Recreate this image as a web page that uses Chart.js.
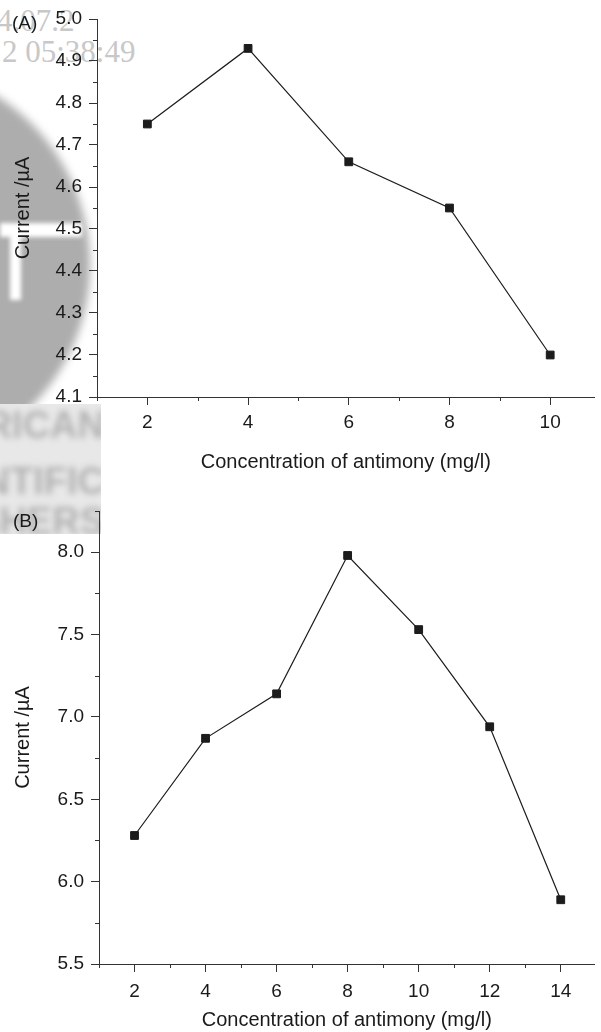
<!DOCTYPE html>
<html>
<head>
<meta charset="utf-8">
<script src="https://cdn.jsdelivr.net/npm/chart.js@4.4.1/dist/chart.umd.min.js"></script>
<style>
  html, body { margin: 0; padding: 0; background: #fff; overflow: hidden; }
  #page { position: relative; width: 601px; height: 1032px; overflow: hidden; }
  canvas { position: absolute; left: 0; z-index: 2; }
  #chartA { top: 0; }
  #chartB { top: 480px; }
  .stamp { position: absolute; z-index: 1; white-space: nowrap; line-height: 30px;
           font-family: "Liberation Serif", "DejaVu Serif", serif; font-size: 31px; color: #c8c8c8; }
  .logo { position: absolute; z-index: 0; }
  .panel { position: absolute; z-index: 3; line-height: 19px;
           font-family: "Liberation Sans", Arial, sans-serif; font-size: 19px; color: #1a1a1a; }
  #band { position: absolute; z-index: 0; left: 0; top: 404px; width: 101px; height: 130px;
          overflow: hidden; background: #e8e8e8; }
  #band div { position: absolute; right: -4px; white-space: nowrap; line-height: 38px;
              font-family: "Liberation Sans", Arial, sans-serif; font-weight: bold; font-size: 38px;
              color: #b2b2b2; filter: blur(3px); }
</style>
</head>
<body>
<div id="page">
  <!-- publisher stamp behind the plots -->
  <div class="logo" style="left:-310px; top:65px; width:400px; height:400px; border-radius:50%; background:#adadad; filter:blur(4px);"></div>
  <div class="logo" style="left:0; top:223px; width:82px; height:14px; background:#fff; filter:blur(2px);"></div>
  <div class="logo" style="left:10px; top:232px; width:11px; height:68px; background:#fff; filter:blur(2px);"></div>
  <div id="band">
    <div style="top:2px;">AMERICAN</div>
    <div style="top:58px;">SCIENTIFIC</div>
    <div style="top:98px;">PUBLISHERS</div>
  </div>
  <div class="stamp" style="left:-3px; top:6px;">4.07.2</div>
  <div class="stamp" style="left:2px; top:37px;">2 05:38:49</div>

  <canvas id="chartA" width="601" height="480"></canvas>
  <canvas id="chartB" width="601" height="552"></canvas>

  <div class="panel" style="left:12px; top:13px;">(A)</div>
  <div class="panel" style="left:13px; top:511px;">(B)</div>
</div>

<script>
// Panel (A): antimony concentration vs peak current
const concA    = [2, 4, 6, 8, 10];
const currentA = [4.75, 4.93, 4.66, 4.55, 4.20];
const xTicksA  = [2, 4, 6, 8, 10];
const yTicksA  = [4.1, 4.2, 4.3, 4.4, 4.5, 4.6, 4.7, 4.8, 4.9, 5.0];

// Panel (B): antimony concentration vs peak current
const concB    = [2, 4, 6, 8, 10, 12, 14];
const currentB = [6.28, 6.87, 7.14, 7.98, 7.53, 6.94, 5.89];
const xTicksB  = [2, 4, 6, 8, 10, 12, 14];
const yTicksB  = [5.5, 6.0, 6.5, 7.0, 7.5, 8.0];

const xTitle = 'Concentration of antimony (mg/l)';
const yTitle = 'Current /\u00b5A';

const axisInk = '#333333';
const textInk = '#1a1a1a';
const markInk = '#1c1c1c';
const sans = '"Liberation Sans", Arial, Helvetica, sans-serif';

// Minor tick values: halfway between the major ticks, kept inside [min, max]
function minorValues(majors, min, max) {
  const step = majors[1] - majors[0];
  const out = [];
  for (let k = -1; k < majors.length + 1; k++) {
    const v = +(majors[0] + step / 2 + k * step).toFixed(6);
    if (v >= min - 1e-9 && v <= max + 1e-9) out.push(v);
  }
  return out;
}

// Short outward ticks between the labelled ones
const minorTicks = {
  id: 'minorTicks',
  afterDraw(chart, args, opts) {
    const { ctx } = chart;
    const xs = chart.scales.x, ys = chart.scales.y;
    ctx.save();
    ctx.strokeStyle = axisInk;
    ctx.lineWidth = 1;
    ctx.beginPath();
    opts.x.forEach(v => {
      const px = Math.round(xs.getPixelForValue(v)) + 0.5;
      ctx.moveTo(px, xs.top);
      ctx.lineTo(px, xs.top + opts.len);
    });
    opts.y.forEach(v => {
      const py = Math.round(ys.getPixelForValue(v)) + 0.5;
      ctx.moveTo(ys.right, py);
      ctx.lineTo(ys.right - opts.len, py);
    });
    ctx.stroke();
    ctx.restore();
  }
};

function buildChart(id, c) {
  return new Chart(document.getElementById(id), {
    type: 'scatter',
    data: {
      datasets: [{
        data: c.xs.map((x, i) => ({ x: x, y: c.ys[i] })),
        showLine: true,
        borderColor: markInk,
        borderWidth: 1.2,
        tension: 0,
        pointStyle: 'rect',
        pointRadius: 5.5,
        pointBackgroundColor: markInk,
        pointBorderColor: markInk,
        pointBorderWidth: 1,
        clip: false
      }]
    },
    options: {
      responsive: false,
      animation: false,
      devicePixelRatio: 1,
      layout: { padding: { top: c.padTop, right: 0, bottom: 0, left: 0 } },
      plugins: {
        legend: { display: false },
        tooltip: { enabled: false },
        minorTicks: {
          x: minorValues(c.xTicks, c.xMin, c.xMax),
          y: minorValues(c.yTicks, c.yMin, c.yMax),
          len: 4
        }
      },
      scales: {
        x: {
          type: 'linear',
          min: c.xMin, max: c.xMax,
          afterBuildTicks: s => { s.ticks = c.xTicks.map(v => ({ value: v })); },
          afterFit: s => { s.height = c.xAxisHeight; },
          grid: { drawOnChartArea: false, drawTicks: true, tickLength: 8, tickColor: axisInk, tickWidth: 1 },
          border: { display: true, color: axisInk, width: 1 },
          ticks: {
            autoSkip: false, maxRotation: 0, padding: c.xTickPad, color: textInk,
            font: { family: sans, size: 19 },
            callback: v => String(v)
          },
          title: {
            display: true, text: xTitle, color: textInk,
            font: { family: sans, size: 20 },
            padding: { top: 0, bottom: c.xTitlePad }
          }
        },
        y: {
          type: 'linear',
          min: c.yMin, max: c.yMax,
          afterBuildTicks: s => { s.ticks = c.yTicks.map(v => ({ value: v })); },
          afterFit: s => { s.width = c.yAxisWidth; },
          grid: { drawOnChartArea: false, drawTicks: true, tickLength: 8, tickColor: axisInk, tickWidth: 1 },
          border: { display: true, color: axisInk, width: 1 },
          ticks: {
            autoSkip: false, padding: 7, color: textInk,
            font: { family: sans, size: 19 },
            callback: v => Number(v).toFixed(1)
          },
          title: {
            display: true, text: yTitle, color: textInk,
            font: { family: sans, size: 20 },
            padding: { top: 11, bottom: 0 }
          }
        }
      }
    },
    plugins: [minorTicks]
  });
}

buildChart('chartA', {
  xs: concA, ys: currentA, xTicks: xTicksA, yTicks: yTicksA,
  xMin: 1, xMax: 10.88, yMin: 4.1, yMax: 5.0,
  padTop: 19, yAxisWidth: 97, xAxisHeight: 83, xTickPad: 6, xTitlePad: 6
});

buildChart('chartB', {
  xs: concB, ys: currentB, xTicks: xTicksB, yTicks: yTicksB,
  xMin: 1, xMax: 14.95, yMin: 5.5, yMax: 8.25,
  padTop: 31, yAxisWidth: 99, xAxisHeight: 68, xTickPad: 8, xTitlePad: 0
});
</script>
</body>
</html>
